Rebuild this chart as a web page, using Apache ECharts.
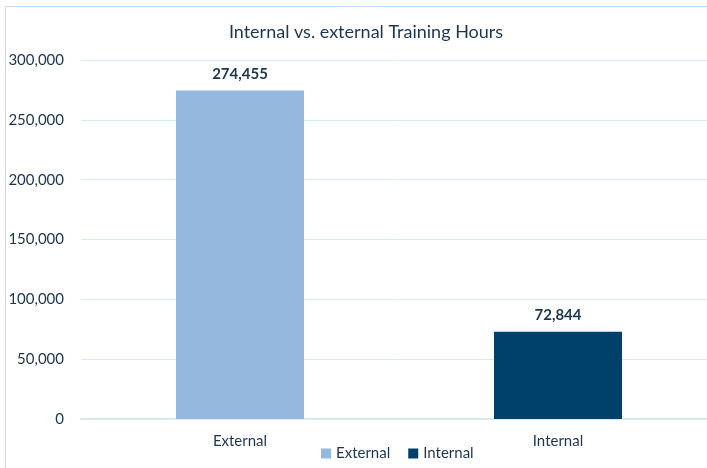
<!DOCTYPE html>
<html>
<head>
<meta charset="utf-8">
<script src="https://cdn.jsdelivr.net/npm/echarts@6/dist/echarts.min.js"></script>
<style>
  html, body { margin: 0; padding: 0; background: #fff; }
  #main { width: 707px; height: 468px; }
</style>
</head>
<body>
<div id="main"></div>
<script>
// 图表数据
var categories = ['External', 'Internal'];
var seriesNames = ['External', 'Internal'];
var externalHours = [274455, '-'];
var internalHours = ['-', 72844];
var yTicks = [0, 50000, 100000, 150000, 200000, 250000, 300000];

var textColor = '#1c3650';
var lineColor = '#d6eaf8';
var borderColor = '#c5e0f5';

function fmt(v) {
  return Number(v).toLocaleString('en-US');
}

var myChart = echarts.init(document.getElementById('main'));

var option = {
  animation: false,
  textStyle: { fontFamily: 'Lato' },
  // 图表外框（只露出上边和左边）
  graphic: [{
    type: 'line',
    shape: { x1: 5.5, y1: 6.5, x2: 707, y2: 6.5 },
    style: { stroke: borderColor, lineWidth: 1 },
    silent: true
  }, {
    type: 'line',
    shape: { x1: 5.5, y1: 6.5, x2: 5.5, y2: 468 },
    style: { stroke: borderColor, lineWidth: 1 },
    silent: true
  }],
  title: {
    text: 'Internal vs. external Training Hours',
    left: 361, top: 18,
    textAlign: 'center',
    textStyle: { fontSize: 18, fontWeight: 'normal', color: textColor, fontFamily: 'Lato' }
  },
  legend: {
    data: seriesNames,
    left: 316, top: 441,
    itemWidth: 10, itemHeight: 10,
    itemGap: 18,
    icon: 'rect',
    textStyle: { fontSize: 15, color: textColor, fontFamily: 'Lato' }
  },
  grid: {
    left: 81, width: 636, top: 60, height: 359,
    containLabel: false, outerBoundsMode: 'none'
  },
  xAxis: {
    type: 'category',
    data: categories,
    axisLine: { lineStyle: { color: lineColor, width: 2 } },
    axisTick: { show: false },
    axisLabel: { color: textColor, fontSize: 15, margin: 15, fontFamily: 'Lato' }
  },
  yAxis: {
    type: 'value',
    min: yTicks[0],
    max: yTicks[yTicks.length - 1],
    interval: yTicks[1] - yTicks[0],
    axisLine: { show: false },
    axisTick: { show: false },
    splitLine: { lineStyle: { color: lineColor, width: 1 } },
    axisLabel: {
      color: textColor, fontSize: 15, margin: 17, fontFamily: 'Lato',
      formatter: function (v) { return fmt(v); }
    }
  },
  series: [{
    name: seriesNames[0],
    type: 'bar',
    stack: 'hours',
    barWidth: 128,
    data: externalHours,
    itemStyle: { color: '#95b8df' },
    label: {
      show: true, position: 'top', distance: 9,
      color: textColor, fontSize: 15, fontWeight: 'bold', fontFamily: 'Lato',
      formatter: function (p) { return fmt(p.value); }
    }
  }, {
    name: seriesNames[1],
    type: 'bar',
    stack: 'hours',
    barWidth: 128,
    data: internalHours,
    itemStyle: { color: '#00416b' },
    label: {
      show: true, position: 'top', distance: 9,
      color: textColor, fontSize: 15, fontWeight: 'bold', fontFamily: 'Lato',
      formatter: function (p) { return fmt(p.value); }
    }
  }]
};

myChart.setOption(option);
</script>
</body>
</html>
